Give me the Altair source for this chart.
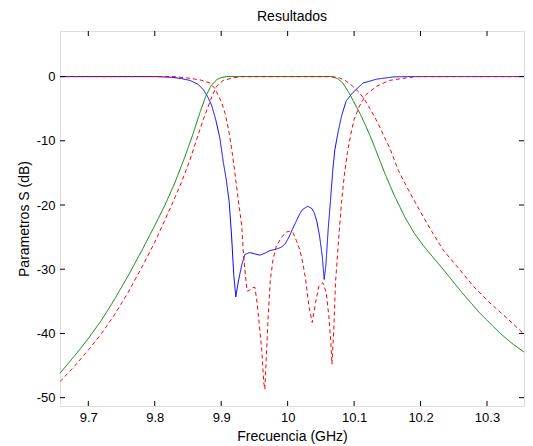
import altair as alt
import pandas as pd

title_txt = "Resultados"
x_title = "Frecuencia (GHz)"
y_title = "Parametros S (dB)"
x_ticks = [9.7, 9.8, 9.9, 10.0, 10.1, 10.2, 10.3]
y_ticks = [-50, -40, -30, -20, -10, 0]
x_domain = [9.6574, 10.3557]
y_domain = [-51.3, 7.1]

# S11 simulated (blue)
s11_sim_f = [9.6574, 9.80, 9.825, 9.84, 9.853, 9.865, 9.873, 9.880, 9.886, 9.892, 9.898, 9.903, 9.908,
             9.912, 9.9156, 9.919, 9.922, 9.9256, 9.931, 9.9356, 9.943, 9.950, 9.958, 9.966, 9.973,
             9.982, 9.990, 9.996, 10.002, 10.008, 10.0126, 10.018, 10.0226, 10.030, 10.036, 10.040,
             10.044, 10.048, 10.052, 10.055, 10.0576, 10.061, 10.0645, 10.068, 10.071, 10.076, 10.081,
             10.088, 10.098, 10.1135, 10.134, 10.159, 10.18, 10.368]
s11_sim_db = [0, 0, -0.1, -0.3, -0.6, -1.2, -2.0, -3.2, -4.6, -6.8, -9.6, -13.2, -16.3,
              -19.5, -24.8, -31.0, -34.3, -32.0, -29.3, -27.7, -27.4, -27.6, -27.8, -27.5, -27.1,
              -26.9, -26.6, -26.1, -25.0, -23.6, -22.6, -21.4, -20.7, -20.2, -20.5, -21.2,
              -22.6, -24.8, -27.9, -31.6, -29.3, -23.8, -19.3, -14.5, -11.4, -8.6, -6.2,
              -3.8, -2.5, -1.0, -0.4, -0.05, 0, 0]

# S21 simulated (green)
s21_sim_f = [9.6574, 9.68, 9.70, 9.72, 9.74, 9.76, 9.78, 9.80, 9.8154, 9.83, 9.845, 9.858, 9.868,
             9.877, 9.885, 9.893, 9.90, 9.908, 10.065, 10.075, 10.083, 10.091, 10.100, 10.110,
             10.119, 10.128, 10.137, 10.146, 10.160, 10.176, 10.190, 10.204, 10.220, 10.234,
             10.262, 10.289, 10.320, 10.3395, 10.368]
s21_sim_db = [-46.2, -43.4, -40.8, -37.9, -34.6, -31.0, -27.2, -23.2, -20.0, -16.6, -12.6, -8.8, -5.6,
              -3.0, -1.4, -0.5, -0.15, 0, 0, -0.3, -1.0, -2.3, -4.0, -6.0,
              -8.0, -10.2, -12.6, -15.0, -18.4, -21.8, -24.3, -26.3, -28.3, -30.0,
              -33.6, -36.8, -40.0, -41.7, -43.8]

# S21 measured (red dashed)
s21_meas_f = [9.6574, 9.68, 9.70, 9.72, 9.74, 9.76, 9.78, 9.80, 9.8255, 9.84, 9.853, 9.863, 9.873,
              9.886, 9.893, 9.903, 9.918, 9.93, 10.068, 10.078, 10.088, 10.098, 10.108, 10.116,
              10.124, 10.131, 10.138, 10.146, 10.154, 10.1665, 10.184, 10.199, 10.2168, 10.234,
              10.2568, 10.279, 10.307, 10.332, 10.368]
s21_meas_db = [-47.5, -45.0, -42.6, -40.0, -37.0, -33.6, -29.8, -25.8, -20.0, -16.5, -13.0, -9.8, -6.7,
               -3.1, -1.5, -0.6, -0.2, 0, 0, -0.2, -0.7, -1.5, -2.5, -3.6,
               -5.0, -6.3, -7.7, -9.5, -11.2, -14.6, -18.1, -20.9, -24.1, -27.0,
               -29.8, -32.6, -35.5, -37.8, -41.3]

# S11 measured (red dashed)
s11_meas_f = [9.6574, 9.83, 9.848, 9.868, 9.883, 9.890, 9.895, 9.9006, 9.906, 9.911, 9.916, 9.9206,
              9.9256, 9.931, 9.933, 9.9356, 9.939, 9.9425, 9.9457, 9.9507, 9.954, 9.957, 9.961,
              9.964, 9.9657, 9.968, 9.9707, 9.974, 9.978, 9.983, 9.991, 9.998, 10.003, 10.008,
              10.013, 10.018, 10.022, 10.027, 10.032, 10.037, 10.042, 10.047, 10.053, 10.058,
              10.062, 10.065, 10.0667, 10.0697, 10.072, 10.076, 10.081, 10.0855, 10.090, 10.095,
              10.100, 10.108, 10.118, 10.134, 10.153, 10.179, 10.194, 10.368]
s11_meas_db = [0, 0, -0.2, -0.5, -1.0, -1.8, -2.8, -4.0, -5.8, -8.2, -11.4, -15.0,
               -19.1, -23.3, -27.0, -30.0, -33.4, -33.3, -32.9, -32.8, -35.2, -38.3, -42.5,
               -47.6, -48.7, -43.5, -37.3, -31.6, -28.5, -26.4, -25.0, -24.2, -24.1, -24.3,
               -25.5, -26.9, -28.6, -31.5, -35.8, -38.3, -35.2, -32.6, -32.1, -33.6,
               -37.3, -41.4, -44.8, -38.8, -32.1, -26.4, -19.6, -15.2, -11.8, -9.0,
               -6.7, -4.6, -2.8, -1.5, -0.6, -0.2, 0, 0]

W, H = 464, 375
FONT = "Liberation Sans"
TICK = 5

xscale = alt.Scale(domain=x_domain, nice=False, zero=False)
yscale = alt.Scale(domain=y_domain, nice=False, zero=False)
xaxis = alt.Axis(values=x_ticks, title=x_title, ticks=False, domain=False, grid=False,
                 labelExpr="toString(datum.value)", labelPadding=5, titlePadding=5,
                 labelFont=FONT, labelFontSize=13, labelColor="black",
                 titleFont=FONT, titleFontSize=14, titleFontWeight="normal", titleColor="black")
yaxis = alt.Axis(values=y_ticks, title=y_title, ticks=False, domain=False, grid=False,
                 labelExpr="toString(datum.value)", labelPadding=5, titlePadding=5,
                 labelFont=FONT, labelFontSize=13, labelColor="black",
                 titleFont=FONT, titleFontSize=14, titleFontWeight="normal", titleColor="black")


def curve(f, db, color, dash):
    df = pd.DataFrame({"f": f, "db": db})
    return alt.Chart(df).mark_line(color=color, strokeWidth=1, strokeDash=dash, clip=True).encode(
        x=alt.X("f:Q", scale=xscale, axis=xaxis),
        y=alt.Y("db:Q", scale=yscale, axis=yaxis),
        order=alt.Order("f:Q"),
    )


xt = pd.DataFrame({"f": x_ticks})
yt = pd.DataFrame({"db": y_ticks})

tick_bottom = alt.Chart(xt).mark_rule(color="black", strokeWidth=1).encode(
    x=alt.X("f:Q", scale=xscale, axis=xaxis), y=alt.value(H), y2=alt.value(H - TICK))
tick_top = alt.Chart(xt).mark_rule(color="black", strokeWidth=1).encode(
    x=alt.X("f:Q", scale=xscale, axis=xaxis), y=alt.value(0), y2=alt.value(TICK))
tick_left = alt.Chart(yt).mark_rule(color="black", strokeWidth=1).encode(
    y=alt.Y("db:Q", scale=yscale, axis=yaxis), x=alt.value(0), x2=alt.value(TICK))
tick_right = alt.Chart(yt).mark_rule(color="black", strokeWidth=1).encode(
    y=alt.Y("db:Q", scale=yscale, axis=yaxis), x=alt.value(W), x2=alt.value(W - TICK))

chart = alt.layer(
    curve(s11_sim_f, s11_sim_db, "#0000ff", [1, 0]),
    curve(s21_sim_f, s21_sim_db, "#008000", [1, 0]),
    curve(s21_meas_f, s21_meas_db, "#ff0000", [4, 3]),
    curve(s11_meas_f, s11_meas_db, "#ff0000", [4, 3]),
    tick_bottom, tick_top, tick_left, tick_right,
).properties(
    width=W, height=H,
    title=alt.TitleParams(title_txt, font=FONT, fontSize=14, fontWeight="normal", color="black",
                          offset=7, anchor="middle"),
    autosize=alt.AutoSizeParams(type="none"),
    padding={"left": 52, "top": 23, "right": 1, "bottom": 38},
).configure_view(
    stroke="black", strokeWidth=1
).configure(background="white")

chart.save("out.html", embed_options={"renderer": "svg", "actions": False})
